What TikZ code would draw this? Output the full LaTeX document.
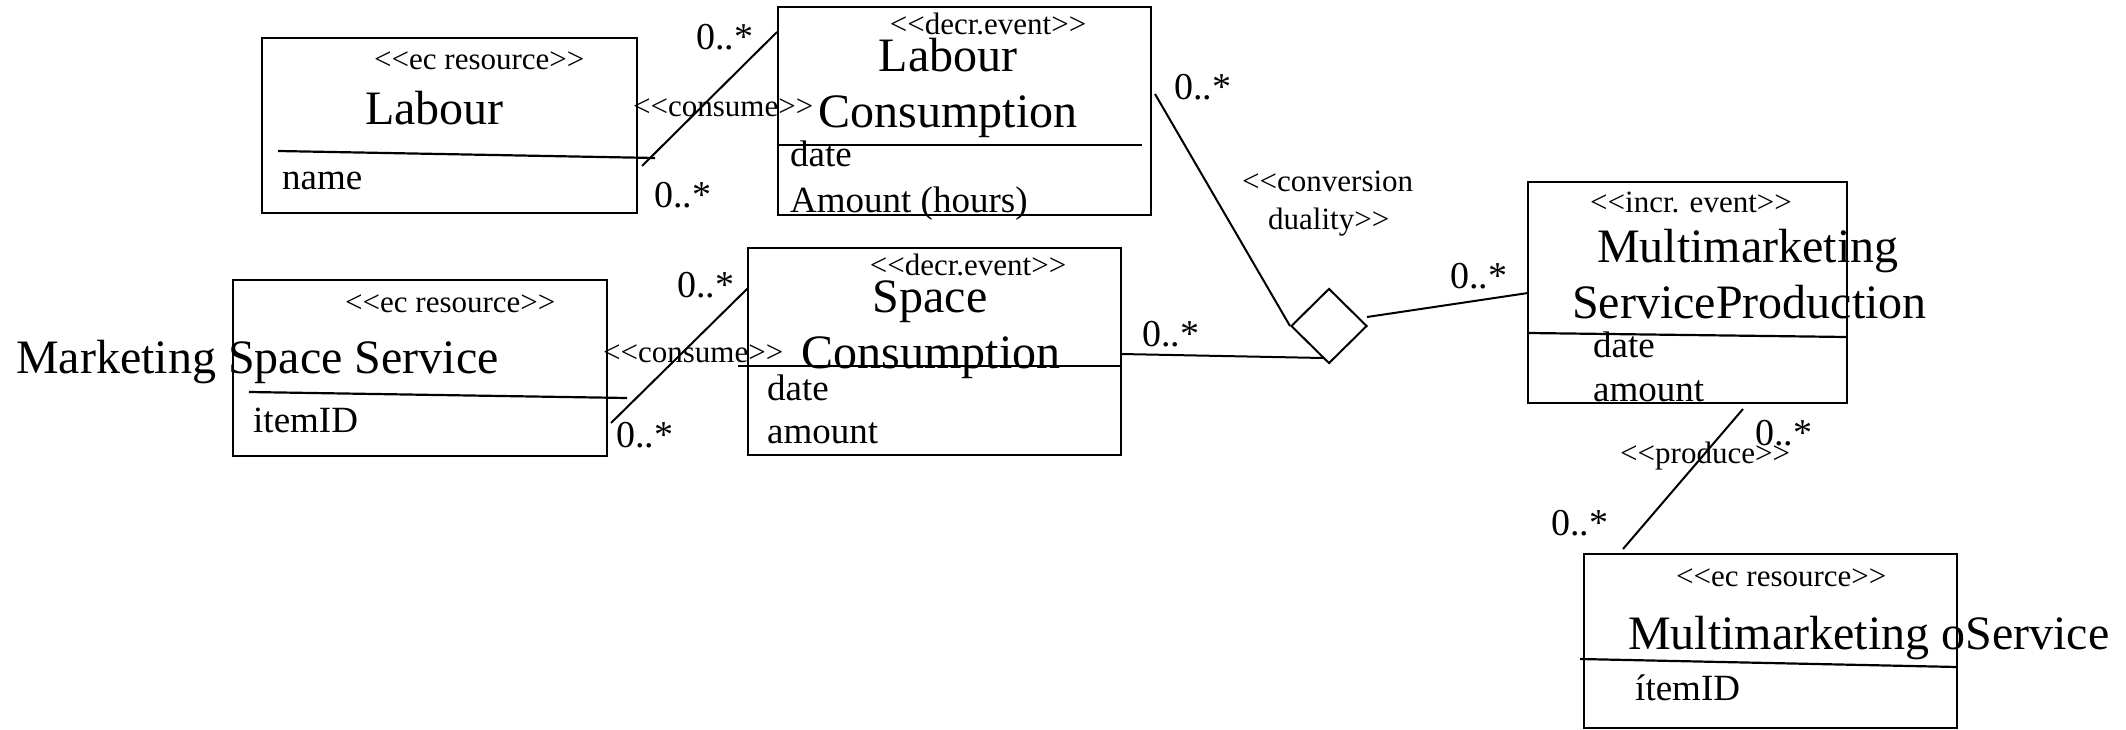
\documentclass[tikz,border=0pt]{standalone}
\usepackage{fontspec}
\setmainfont{Liberation Serif}[Ligatures=TeXOff]
\usetikzlibrary{shapes.geometric}
\begin{document}
\begin{tikzpicture}[x=1pt, y=-1pt,
  umlbox/.style={draw, line width=2.6pt, inner sep=0pt},
  sep/.style={line width=2.2pt},
  conn/.style={line width=2pt},
  st/.style={inner sep=0pt, anchor=base west, font=\fontsize{31}{31}\selectfont},
  stc/.style={st, anchor=base},
  ttl/.style={inner sep=0pt, anchor=base west, font=\fontsize{48}{48}\selectfont},
  ttlc/.style={ttl, anchor=base},
  att/.style={inner sep=0pt, anchor=base west, font=\fontsize{37}{37}\selectfont},
  mult/.style={inner sep=0pt, anchor=base west, font=\fontsize{38}{38}\selectfont}]
\useasboundingbox[fill=white] (0,0) rectangle (2126,730);

% class boxes
\node[umlbox, minimum width=375, minimum height=175] (labour) at (449.5,125.5) {};
\node[umlbox, minimum width=373, minimum height=208] (lcons) at (964.5,111) {};
\node[umlbox, minimum width=374, minimum height=176] (mss) at (420,368) {};
\node[umlbox, minimum width=373, minimum height=207] (scons) at (934.5,351.5) {};
\node[umlbox, minimum width=319, minimum height=221] (msp) at (1687.5,292.5) {};
\node[umlbox, minimum width=373, minimum height=174] (mos) at (1770.5,641) {};

% duality diamond
\node[draw, line width=2pt, shape=diamond, inner sep=0pt, minimum width=76, minimum height=75] (dual) at (1329,326) {};

% compartment separators
\draw[sep] (278,151) -- (655,158);
\draw[sep] (778,145) -- (1142,145);
\draw[sep] (249,392) -- (627,398);
\draw[sep] (738,366) -- (1121,366);
\draw[sep] (1528,333) -- (1847,337);
\draw[sep] (1580,659) -- (1957,667);

% connector end points
\coordinate (c1a) at (642,166);
\coordinate (c1b) at (777,32);
\coordinate (c2a) at (611,423);
\coordinate (c2b) at (748,288);
\coordinate (c3a) at (1155,94);
\coordinate (c4a) at (1121,354);
\coordinate (c4b) at (1323,358);
\coordinate (c5a) at (1367,317);
\coordinate (c5b) at (1528,293);
\coordinate (c6a) at (1743,409);
\coordinate (c6b) at (1623,549);

\draw[conn] (c1a) -- (c1b);
\draw[conn] (c2a) -- (c2b);
\draw[conn] (c3a) -- (dual.west);
\draw[conn] (c4a) -- (c4b);
\draw[conn] (c5a) -- (c5b);
\draw[conn] (c6a) -- (c6b);

% Labour
\node[st] (labST) at (374,70) {<<ec resource>>};
\node[ttl] (labT) at (365,125) {Labour};
\node[att] (labA) at (282,190) {name};

% Labour Consumption
\node[stc] (lcST) at (988,35) {<<decr.event>>};
\node[ttlc] (lcT1) at (948,72) {Labour};
\node[ttlc] (lcT2) at (948,128) {Consumption};
\node[att] (lcA1) at (790,167) {date};
\node[att] (lcA2) at (790,213) {Amount (hours)};

% Labour consume association
\node[st] (cons1) at (633,117) {<<consume>>};
\node[mult] (m1a) at (696,50) {0..*};
\node[mult] (m1b) at (654,208) {0..*};

% Marketing Space Service
\node[st] (mssST) at (345,312) {<<ec resource>>};
\node[ttl] (mssT) at (16,373) {Marketing Space Service};
\node[att] (mssA) at (253,432) {itemID};

% Space consume association
\node[st] (cons2) at (603,362) {<<consume>>};
\node[mult] (m2a) at (677,297) {0..*};
\node[mult] (m2b) at (616,447) {0..*};

% Space Consumption
\node[stc] (scST) at (968,276) {<<decr.event>>};
\node[ttlc] (scT1) at (930,312) {Space};
\node[ttlc] (scT2) at (931,368) {Consumption};
\node[att] (scA1) at (767,400) {date};
\node[att] (scA2) at (767,443) {amount};

% conversion duality
\node[mult] (m3) at (1174,100) {0..*};
\node[mult] (m4) at (1142,346) {0..*};
\node[mult] (m5) at (1450,288) {0..*};
\node[st] (dualL1) at (1242,192) {<<conversion};
\node[st] (dualL2) at (1268,230) {duality>>};

% Multimarketing ServiceProduction
\node[stc] (mspST) at (1691,213) {<<incr. event>>};
\node[ttl] (mspT1) at (1597,262) {Multimarketing};
\node[ttl] (mspT2) at (1572,318) {ServiceProduction};
\node[att] (mspA1) at (1593,357) {date};
\node[att] (mspA2) at (1593,401) {amount};

% produce association
\node[mult] (m6a) at (1755,445) {0..*};
\node[st] (prod) at (1620,463) {<<produce>>};
\node[mult] (m6b) at (1551,535) {0..*};

% Multimarketing oService
\node[st] (mosST) at (1676,586) {<<ec resource>>};
\node[ttl] (mosT) at (1628,649) {Multimarketing oService};
\node[att] (mosA) at (1635,700) {ítemID};
\end{tikzpicture}
\end{document}
